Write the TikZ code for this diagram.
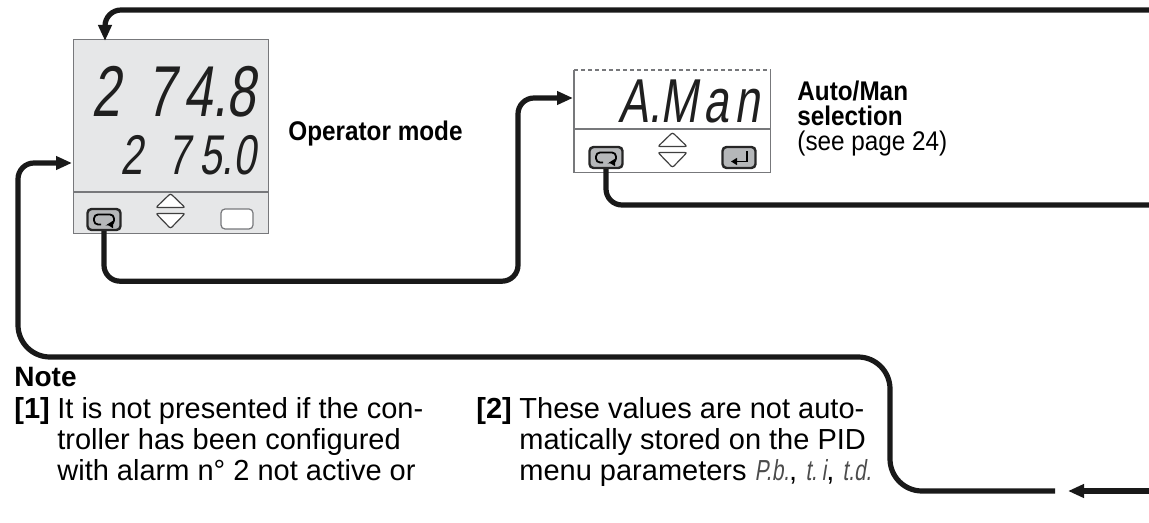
\documentclass[tikz,border=0pt]{standalone}
\usepackage{fontspec}
\setmainfont{Liberation Sans}
\newfontfamily\condfont[FakeStretch=0.9]{Liberation Sans}
\newfontfamily\segfont[FakeStretch=0.72,FakeSlant=0.16]{Liberation Sans}
\usetikzlibrary{arrows.meta}
\definecolor{lcdgray}{HTML}{E6E7E8}
\definecolor{rimgray}{HTML}{77787B}
\definecolor{keygray}{HTML}{B5B7B9}
\tikzset{
  loopicon/.pic={\draw[line width=0.9pt, rounded corners=2pt, -{Triangle[length=3pt,width=3.5pt]}]
    (-3,5) -- (-10,5) -- (-10,-5) -- (10,-5) -- (10,5) -- (3,5);},
  entericon/.pic={\draw[line width=0.9pt, -{Triangle[length=3pt,width=3.5pt]}]
    (8,-6) -- (8,4) -- (-8,4);},
  updown/.pic={\draw[draw=black!75, fill=white, line width=0.6pt, rounded corners=1pt]
    (-14.5,-3) -- (0,-17) -- (14.5,-3) -- cycle (-14.5,3) -- (0,18) -- (14.5,3) -- cycle;}
}

\begin{document}
\begin{tikzpicture}[x=0.5pt,y=-0.5pt,
  flow/.style={line width=2.6pt, draw=black!90, rounded corners=8pt, -{Triangle[length=8pt,width=6.5pt]}},
  wire/.style={line width=2.6pt, draw=black!90, rounded corners=8pt},
  display/.style={inner sep=0pt, anchor=north west},
  keybox/.style={draw=black!85, line width=1.2pt, fill=keygray, rounded corners=2pt,
    minimum width=16.5pt, minimum height=10.5pt, inner sep=0pt},
  blankkey/.style={draw=rimgray, line width=0.6pt, fill=white, rounded corners=2pt,
    minimum width=16pt, minimum height=10pt, inner sep=0pt},
  segtext/.style={inner sep=0pt, anchor=base east, text=black!88},
  txt/.style={inner sep=0pt, anchor=base west},
  notetxt/.style={inner sep=0pt, anchor=north west, align=left, font=\fontsize{14.5}{15.5}\selectfont}]

\useasboundingbox (0,0) rectangle (1149,523);

\node[display, draw=rimgray, line width=0.6pt, fill=lcdgray, minimum width=97.5pt, minimum height=97pt] (disp1) at (73,39) {};
\draw[rimgray, line width=0.6pt] (disp1.west |- 0,192) -- (disp1.east |- 0,192);
\node[segtext, font=\segfont\fontsize{36}{36}\selectfont] (pv) at (256,117) {2\kern13pt 7\kern4pt 4.8};
\node[segtext, font=\segfont\fontsize{28}{28}\selectfont] (sp) at (256,175) {2\kern12pt 7\kern5pt 5.0};
\node[keybox] (scroll1) at (104,219.5) {};
\pic at (scroll1) {loopicon};
\pic at (170.5,210.5) {updown};
\node[blankkey] (spare1) at (237,219) {};

\node[display, minimum width=98pt, minimum height=51pt] (disp2) at (574,70) {};
\draw[rimgray, line width=0.6pt] (disp2.north west) -- (disp2.south west) -- (disp2.south east) -- (disp2.north east);
\draw[rimgray, line width=0.6pt, dash pattern=on 2pt off 1.5pt] (disp2.north west) -- (disp2.north east);
\draw[rimgray, line width=0.6pt] (disp2.west |- 0,129) -- (disp2.east |- 0,129);
\node[segtext, font=\segfont\fontsize{31}{31}\selectfont] (mode) at (760,123) {A.M\kern3pt a\kern3pt n};
\node[keybox] (scroll2) at (606,157.5) {};
\pic at (scroll2) {loopicon};
\pic at (672.5,149.5) {updown};
\node[keybox] (enter2) at (739,157.5) {};
\pic at (enter2) {entericon};

\node[txt, font=\condfont\bfseries\fontsize{13.5}{16}\selectfont] (opmode) at (288,141) {Operator mode};
\node[inner sep=0pt, anchor=north west, align=left, font=\condfont\fontsize{13.5}{12.3}\selectfont] (amsel) at (797,81)
  {\textbf{Auto/Man}\\\textbf{selection}\\(see page 24)};

\node[txt, font=\bfseries\fontsize{14}{16}\selectfont] (note) at (14,386) {Note};
\node[inner sep=0pt, anchor=north west, font=\bfseries\fontsize{14.5}{15.5}\selectfont] (ref1) at (14,397) {[1]};
\node[notetxt] (note1) at (57,397) {It is not presented if the con-\\troller has been configured\\with alarm n° 2 not active or};
\node[inner sep=0pt, anchor=north west, font=\bfseries\fontsize{14.5}{15.5}\selectfont] (ref2) at (476,397) {[2]};
\node[notetxt] (note2) at (519,397) {These values are not auto-\\matically stored on the PID\\menu parameters
  {\segfont\color{black!70}P.b.}, {\segfont\color{black!70}t.\,i}, {\segfont\color{black!70}t.d.}};

\coordinate (topR) at (1149,10);
\coordinate (in1top) at (105,41);
\coordinate (in1left) at (72,163);
\coordinate (in2) at (573,98);
\coordinate (out2) at (1149,205);
\coordinate (backR) at (1149,491);
\coordinate (backTip) at (1068,491);
\coordinate (backIn) at (1055,491);

\draw[flow] (topR) -- (in1top |- topR) -- (in1top);
\draw[flow] (scroll1.south) -- ++(0,50) -| ([xshift=-27.5pt]in2) -- (in2);
\draw[wire] (scroll2.south) |- (out2);
\draw[flow] (backR) -- (backTip);
\draw[flow] (backIn) [rounded corners=16pt] -- ++(-165,0) -- ++(0,-134) -- (18,357) [rounded corners=8pt] -- (18,163) -- (in1left);

\end{tikzpicture}
\end{document}
